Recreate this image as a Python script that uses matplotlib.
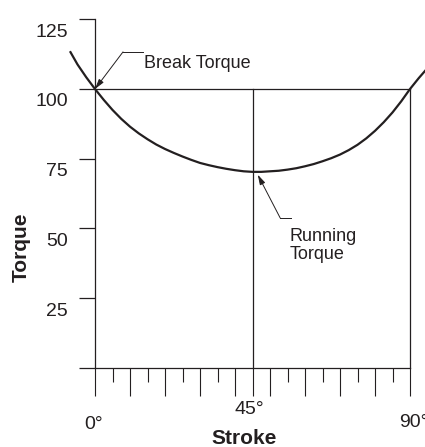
import matplotlib.pyplot as plt
from matplotlib.transforms import ScaledTranslation

plt.rcParams['font.family'] = ['Liberation Sans', 'DejaVu Sans']

INK = '#231f20'

# curve (stroke in degrees, torque)
stroke = [-7, -5, -2.5, 0, 2.5, 5, 7.5, 10, 12.5, 15, 17.5, 20, 22.5, 25, 27.5, 30, 32.5, 35,
          37.5, 40, 42.5, 45, 47.5, 50, 52.5, 55, 57.5, 60, 62.5, 65, 67.5, 70, 72.5, 75,
          77.5, 80, 82.5, 85, 87.5, 90, 92.5, 95]
torque = [113.2, 108.8, 104.2, 100, 96.1, 92.5, 89.3, 86.5, 84.1, 82, 80.1, 78.5, 77.1, 75.8,
          74.6, 73.5, 72.7, 72, 71.4, 70.9, 70.5, 70.3, 70.3, 70.5, 70.7, 71.1, 71.6, 72.3,
          73.1, 74.1, 75.2, 76.5, 78.1, 80, 82.3, 85, 88.1, 91.6, 95.6, 100, 103.9, 107.5]

break_torque = 100
stroke_mid = 45
stroke_end = 90

y_ticks = [0, 25, 50, 75, 100, 125]
y_labels = ['', '25', '50', '75', '100', '125']
x_major = [0, 10, 20, 30, 40, 45, 50, 60, 70, 80, 90]
x_minor = [5, 15, 25, 35, 55, 65, 75, 85]
x_labels = ['0°', '45°', '90°']
x_label_pos = [0, 45, 90]

W, H = 425, 447
fig = plt.figure(figsize=(W / 100, H / 100), dpi=100)
ax = fig.add_axes([0, 0, 1, 1])
ax.patch.set_alpha(0)

# pixel mapping: 0 deg -> x=95, 90 deg -> x=410 ; torque 0 -> y=368, 100 -> y=89
px_deg = 3.5
px_tq = 2.79
ax.set_xlim(-95 / px_deg, (W - 95) / px_deg)
ax.set_ylim(-(H - 368) / px_tq, 368 / px_tq)

for s in ['top', 'right']:
    ax.spines[s].set_visible(False)
ax.spines['left'].set_position(('data', 0))
ax.spines['bottom'].set_position(('data', 0))
ax.spines['left'].set_bounds(0, 125)
ax.spines['bottom'].set_bounds(0, 90)
for s in ['left', 'bottom']:
    ax.spines[s].set_linewidth(0.9)
    ax.spines[s].set_color(INK)

ax.set_yticks(y_ticks)
ax.set_yticklabels(y_labels)
ax.tick_params(axis='y', direction='out', length=11.5, width=0.9, color=INK,
               pad=8, labelsize=14, labelcolor=INK)
off = ScaledTranslation(0, -11 / 100, fig.dpi_scale_trans)
for lab in ax.get_yticklabels():
    lab.set_transform(lab.get_transform() + off)

ax.set_xticks(x_major)
ax.set_xticks(x_minor, minor=True)
ax.set_xticklabels([])
ax.tick_params(axis='x', which='major', direction='out', length=20.2, width=0.8, color=INK)
ax.tick_params(axis='x', which='minor', direction='out', length=10, width=0.8, color=INK)

x_offsets = [(-1, -41), (-2, -30), (3, -39)]
for lab, xp, (dx, dy) in zip(x_labels, x_label_pos, x_offsets):
    ax.annotate(lab, xy=(xp, 0), xytext=(dx, dy), textcoords='offset points',
                ha='center', va='center', fontsize=14, color=INK, annotation_clip=False)

# reference lines
ax.plot([0, stroke_end], [break_torque, break_torque], color=INK, lw=0.9)
ax.plot([stroke_mid, stroke_mid], [0, break_torque], color=INK, lw=0.9)
ax.plot([stroke_end, stroke_end], [0, break_torque], color=INK, lw=0.9)

ax.plot(stroke, torque, color=INK, lw=1.6, solid_joinstyle='round', clip_on=False)

# leaders
arrow = dict(arrowstyle='-|>,head_length=0.6,head_width=0.17', color=INK, lw=0.7,
             shrinkA=0, shrinkB=0)
ax.plot([8, 13.7], [113.3, 113.3], color=INK, lw=0.7)
ax.annotate('', xy=(0, break_torque), xytext=(8, 113.3), arrowprops=arrow)
ax.text(13.9, 109.3, 'Break Torque', fontsize=13, color=INK, ha='left', va='center')

ax.plot([52.9, 56], [53.8, 53.8], color=INK, lw=0.7)
ax.annotate('', xy=(46.5, 69.3), xytext=(52.9, 53.8), arrowprops=arrow)
ax.text(55.7, 50.2, 'Running\nTorque', fontsize=13, color=INK, ha='left', va='top',
        linespacing=1.05)

fig.text(21 / W, 1 - 247 / H, 'Torque', rotation=90, fontsize=15, fontweight='bold',
         color=INK, ha='center', va='center')
fig.text(244 / W, 1 - 438 / H, 'Stroke', fontsize=15, fontweight='bold',
         color=INK, ha='center', va='center')

fig.savefig('out.png', dpi=100)
